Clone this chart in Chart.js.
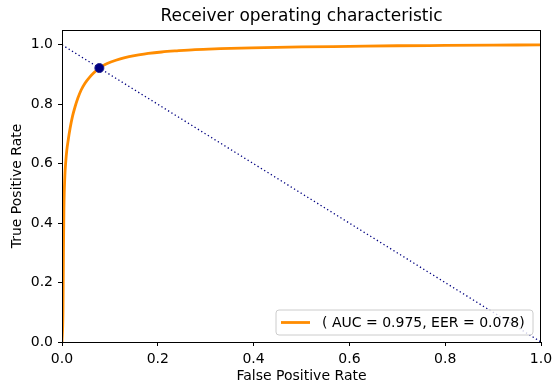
<!DOCTYPE html>
<html>
<head>
<meta charset="utf-8">
<script src="https://cdn.jsdelivr.net/npm/chart.js@4"></script>
<style>
  html, body { margin: 0; padding: 0; background: #fff; }
  #wrap { width: 555px; height: 385px; }
</style>
</head>
<body>
<div id="wrap"><canvas id="roc" width="555" height="385"></canvas></div>
<script>
// ROC curve
const fprValues = [0.0, 0.002, 0.003, 0.004, 0.006, 0.008, 0.010, 0.013, 0.017, 0.022,
  0.027, 0.033, 0.040, 0.048, 0.057, 0.067, 0.078, 0.090, 0.105, 0.12,
  0.14, 0.16, 0.18, 0.208, 0.24, 0.278, 0.33, 0.396, 0.50, 0.60, 0.70, 0.80, 0.90, 1.0];
const tprValues = [0.0, 0.10, 0.30, 0.45, 0.56, 0.61, 0.645, 0.68, 0.72, 0.76,
  0.79, 0.82, 0.848, 0.871, 0.89, 0.907, 0.922, 0.934, 0.944, 0.952,
  0.960, 0.966, 0.971, 0.976, 0.980, 0.984, 0.987, 0.990, 0.993, 0.995, 0.997, 0.998, 0.999, 1.0];

// chance diagonal and EER point
const diagX = [0, 1];
const diagY = [1, 0];
const eerPoint = [0.078, 0.922];

const tickValues = [0.0, 0.2, 0.4, 0.6, 0.8, 1.0];
const rocLabel = '( AUC = 0.975, EER = 0.078)';
const chartTitle = 'Receiver operating characteristic';

const FONT = "'DejaVu Sans', sans-serif";

function toPoints(xs, ys) {
  return xs.map((x, i) => ({ x: x, y: ys[i] }));
}

// title centred over the plot, full box frame, legend inside lower right
const decorPlugin = {
  id: 'decor',
  afterDatasetsDraw(chart) {
    const ctx = chart.ctx;
    const a = chart.chartArea;
    ctx.save();
    ctx.strokeStyle = '#000';
    ctx.lineWidth = 1;
    ctx.strokeRect(a.left + 0.5, a.top + 0.5, a.right - a.left - 1, a.bottom - a.top);

    // title
    ctx.fillStyle = '#000';
    ctx.font = '17px ' + FONT;
    ctx.textAlign = 'center';
    ctx.textBaseline = 'middle';
    ctx.fillText(chartTitle, (a.left + a.right) / 2, 17);

    // legend box, anchored to the lower right corner of the plot
    const bw = 257, bh = 25, r = 3;
    const bx = a.right - 8 - bw, by = a.bottom - 7 - bh;
    ctx.beginPath();
    ctx.moveTo(bx + r, by);
    ctx.arcTo(bx + bw, by, bx + bw, by + bh, r);
    ctx.arcTo(bx + bw, by + bh, bx, by + bh, r);
    ctx.arcTo(bx, by + bh, bx, by, r);
    ctx.arcTo(bx, by, bx + bw, by, r);
    ctx.closePath();
    ctx.fillStyle = 'rgba(255,255,255,0.8)';
    ctx.fill();
    ctx.strokeStyle = '#cccccc';
    ctx.stroke();

    const ds = chart.data.datasets[1];
    const cy = by + bh / 2;
    ctx.strokeStyle = ds.borderColor;
    ctx.lineWidth = ds.borderWidth;
    ctx.beginPath();
    ctx.moveTo(bx + 5, cy);
    ctx.lineTo(bx + 34, cy);
    ctx.stroke();

    ctx.fillStyle = '#000';
    ctx.font = '14px ' + FONT;
    ctx.textAlign = 'left';
    ctx.fillText(ds.label, bx + 46, cy + 0.5);
    ctx.restore();
  }
};

const axisCommon = {
  type: 'linear',
  grid: {
    display: true,
    drawOnChartArea: false,
    drawTicks: true,
    tickLength: 4,
    tickColor: '#000',
    color: '#000'
  },
  border: { display: true, color: '#000', width: 1 },
  afterBuildTicks(scale) {
    scale.ticks = tickValues.map(v => ({ value: v }));
  },
  ticks: {
    color: '#000',
    font: { family: FONT, size: 14 },
    padding: 5,
    maxRotation: 0,
    callback: v => v.toFixed(1)
  }
};

new Chart(document.getElementById('roc'), {
  type: 'scatter',
  data: {
    datasets: [
      {
        label: 'EER',
        data: [{ x: eerPoint[0], y: eerPoint[1] }],
        backgroundColor: '#000080',
        borderColor: '#1f1f8f',
        borderWidth: 1,
        pointRadius: 4.5,
        showLine: false,
        order: 0
      },
      {
        label: rocLabel,
        data: toPoints(fprValues, tprValues),
        borderColor: '#ff8c00',
        borderWidth: 2.8,
        pointRadius: 0,
        showLine: true,
        cubicInterpolationMode: 'monotone',
        order: 1
      },
      {
        label: 'chance',
        data: toPoints(diagX, diagY),
        borderColor: '#000080',
        borderWidth: 1.3,
        borderDash: [1.3, 2.6],
        pointRadius: 0,
        showLine: true,
        order: 2
      }
    ]
  },
  options: {
    responsive: false,
    animation: false,
    layout: { padding: { left: 0, right: 14, top: 30, bottom: 0 } },
    plugins: {
      legend: { display: false },
      title: { display: false },
      tooltip: { enabled: false }
    },
    scales: {
      x: Object.assign({}, axisCommon, {
        min: 0,
        max: 1,
        title: {
          display: true,
          text: 'False Positive Rate',
          color: '#000',
          font: { family: FONT, size: 14 },
          padding: { top: 2, bottom: 0 }
        },
        afterFit(scale) {
          scale.height = 43;
          scale.paddingLeft = 0;
          scale.paddingRight = 0;
        }
      }),
      y: Object.assign({}, axisCommon, {
        min: 0,
        max: 1.05,
        title: {
          display: true,
          text: 'True Positive Rate',
          color: '#000',
          font: { family: FONT, size: 14 },
          padding: { top: 9, bottom: 0 }
        },
        afterFit(scale) {
          scale.width = 62;
          scale.paddingTop = 0;
          scale.paddingBottom = 0;
        }
      })
    }
  },
  plugins: [decorPlugin]
});
</script>
</body>
</html>
